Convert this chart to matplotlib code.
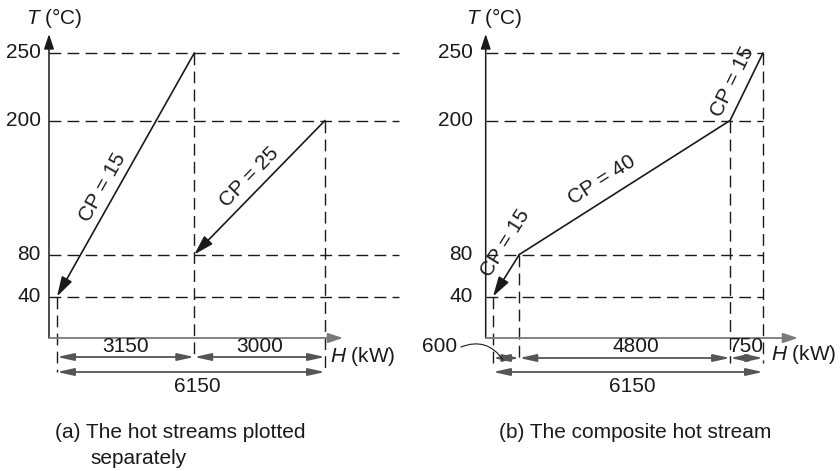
import numpy as np
import matplotlib
matplotlib.use('Agg')
import matplotlib.pyplot as plt
import matplotlib.transforms as mtransforms

plt.rcParams['font.family'] = ['Liberation Sans', 'DejaVu Sans']
plt.rcParams['mathtext.fontset'] = 'custom'
plt.rcParams['mathtext.it'] = 'Liberation Sans:italic'
plt.rcParams['mathtext.rm'] = 'Liberation Sans'

# ---------------- data ----------------
t_ticks = [40, 80, 200, 250]

# (a) hot streams plotted separately
a_H_supply = [3150, 6150]
a_T_supply = [250, 200]
a_H_target = [0, 3150]
a_T_target = [40, 80]
a_cp = [15, 25]
a_intervals = [3150, 3000]
a_total = 6150

# (b) composite hot stream (from hot end to cold end)
b_H = [6150, 5400, 600, 0]
b_T = [250, 200, 80, 40]
b_cp = [15, 40, 15]
b_intervals = [600, 4800, 750]
b_total = 6150

cap_a = ["(a) The hot streams plotted", "separately"]
cap_b = "(b) The composite hot stream"

# ---------------- schematic temperature scale ----------------
TK = np.array([-300, 0, 40, 80, 200, 250, 400.])
PK = np.array([-308, 0, 41.5, 83.5, 217.5, 285, 489.])
def fwd(t):
    return np.interp(t, TK, PK)
def inv(p):
    return np.interp(p, PK, TK)

W, Hh = 840, 471
fig = plt.figure(figsize=(W / 100, Hh / 100), dpi=100)
PX = mtransforms.Affine2D().scale(0.01, -0.01).translate(0, Hh / 100) + fig.dpi_scale_trans

FS = 15
DARK = '#1a1a1a'
GRAY = '#7a7a7a'
DIM = '#555555'


def make_ax(x0, x1, hmax):
    ax = fig.add_axes([x0 / W, (Hh - 338) / Hh, (x1 - x0) / W, 285 / Hh])
    ax.set_yscale('function', functions=(fwd, inv))
    ax.set_xlim(0, hmax)
    ax.set_ylim(0, 250)
    ax.axis('off')
    return ax


def px2data(ax, xp, yp):
    d = PX.transform((xp, yp))
    return ax.transData.inverted().transform(d)


def arrow(ax, p0, p1, style='-|>', color=DARK, lw=1.1, ms=10, hl=0.9, hw=0.28):
    ax.annotate('', xy=p1, xytext=p0, annotation_clip=False,
                arrowprops=dict(arrowstyle=f'{style},head_length={hl},head_width={hw}',
                                color=color, lw=lw, shrinkA=0, shrinkB=0,
                                mutation_scale=ms))


def cp_label(ax, p_start, p_end, text, frac, d):
    a = ax.transData.transform(p_start)
    b = ax.transData.transform(p_end)
    v = b - a
    L = np.hypot(*v)
    n = np.array([-v[1], v[0]]) / L
    if n[1] < 0:
        n = -n
    pos = a + frac * v + n * d
    ang = np.degrees(np.arctan2(v[1], v[0]))
    if ang > 90:
        ang -= 180
    if ang < -90:
        ang += 180
    xd, yd = ax.transData.inverted().transform(pos)
    ax.text(xd, yd, text, rotation=ang, rotation_mode='anchor', ha='center',
            va='center', fontsize=FS, color=DARK)


def dash_h(ax, x0, x1, t):
    ax.plot([x0, x1], [t, t], color=DARK, lw=1.0, dashes=(8.5, 4.5), clip_on=False)


def dash_v(ax, h, t0, t1):
    ax.plot([h, h], [t0, t1], color=DARK, lw=1.0, dashes=(8.5, 4.5), clip_on=False)


def frame(ax, yaxis_px, xend_px, tick_right_px, tlabel_px, hlabel_px):
    ax.annotate('', xy=(yaxis_px, 34), xytext=(yaxis_px, 338), xycoords=PX, textcoords=PX,
                annotation_clip=False,
                arrowprops=dict(arrowstyle='-|>,head_length=0.9,head_width=0.3', color=DARK,
                                lw=1.1, shrinkA=0, shrinkB=0, mutation_scale=10))
    ax.annotate('', xy=(xend_px, 338), xytext=(yaxis_px, 338), xycoords=PX, textcoords=PX,
                annotation_clip=False,
                arrowprops=dict(arrowstyle='-|>,head_length=0.9,head_width=0.3', color=GRAY,
                                lw=1.3, shrinkA=0, shrinkB=0, mutation_scale=10))
    for t in t_ticks:
        xd, _ = px2data(ax, tick_right_px, 0)
        ax.text(xd, t, str(t), ha='right', va='center', fontsize=FS, color=DARK)
    fig.text(tlabel_px / W, 1 - 18 / Hh, r'$T$ (°C)', ha='left', va='center',
             fontsize=FS, color=DARK)
    fig.text(hlabel_px[0] / W, 1 - hlabel_px[1] / Hh, r'$H$ (kW)', ha='left', va='center',
             fontsize=FS, color=DARK)


def dim_arrow(ax, x0, x1, y):
    arrow(ax, (x0, y), (x1, y), style='<|-|>', color=DIM, lw=1.3, ms=10, hl=1.0, hw=0.22)


# ================= panel (a) =================
axa = make_ax(57, 325, a_total)
ya_axis = px2data(axa, 49, 0)[0]
frame(axa, 49, 343, 41, 26, (330, 357))

xr = px2data(axa, 399, 0)[0]
for t in t_ticks:
    dash_h(axa, ya_axis, xr, t)

row1 = px2data(axa, 0, 357)[1]
row2 = px2data(axa, 0, 372)[1]
lab1 = px2data(axa, 0, 347)[1]
lab2 = px2data(axa, 0, 386)[1]

dash_v(axa, a_H_target[0], a_T_target[0], row2)
dash_v(axa, a_H_supply[0], a_T_supply[0], row1)
dash_v(axa, a_H_supply[1], a_T_supply[1], row2)

for hs, ts, he, te in zip(a_H_supply, a_T_supply, a_H_target, a_T_target):
    arrow(axa, (hs, ts), (he, te), ms=10, hl=1.2, hw=0.35, lw=1.2)
cp_label(axa, (a_H_supply[0], a_T_supply[0]), (a_H_target[0], a_T_target[0]),
         f'CP = {a_cp[0]}', 0.58, 14)
cp_label(axa, (a_H_supply[1], a_T_supply[1]), (a_H_target[1], a_T_target[1]),
         f'CP = {a_cp[1]}', 0.5, 15)

edges = np.concatenate([[0], np.cumsum(a_intervals)])
for i, val in enumerate(a_intervals):
    dim_arrow(axa, edges[i], edges[i + 1], row1)
    axa.text((edges[i] + edges[i + 1]) / 2, lab1, str(val), ha='center', va='center',
             fontsize=FS, color=DARK)
dim_arrow(axa, 0, a_total, row2)
axa.text(a_total / 2 + 150, lab2, str(a_total), ha='center', va='center', fontsize=FS,
         color=DARK)

fig.text(55 / W, 1 - 432 / Hh, cap_a[0], ha='left', va='center', fontsize=FS, color=DARK)
fig.text(90 / W, 1 - 458 / Hh, cap_a[1], ha='left', va='center', fontsize=FS, color=DARK)

# ================= panel (b) =================
axb = make_ax(493, 763, b_total)
yb_axis = px2data(axb, 485.7, 0)[0]
frame(axb, 485.7, 798, 473, 466, (771, 355))

for t in t_ticks:
    dash_h(axb, yb_axis, b_H[0], t)

rb1 = px2data(axb, 0, 358)[1]
rb2 = px2data(axb, 0, 372)[1]
rbv = px2data(axb, 0, 363)[1]
lb1 = px2data(axb, 0, 347)[1]
lb2 = px2data(axb, 0, 386)[1]

for h, t in zip(b_H, b_T):
    dash_v(axb, h, t, rbv)

axb.plot(b_H[:-1], b_T[:-1], color=DARK, lw=1.2, clip_on=False, solid_capstyle='round',
         solid_joinstyle='miter')
arrow(axb, (b_H[-2], b_T[-2]), (b_H[-1], b_T[-1]), ms=10, hl=1.2, hw=0.35, lw=1.2)

cp_label(axb, (b_H[0], b_T[0]), (b_H[1], b_T[1]), f'CP = {b_cp[0]}', 0.52, 15)
cp_label(axb, (b_H[1], b_T[1]), (b_H[2], b_T[2]), f'CP = {b_cp[1]}', 0.56, 18)
cp_label(axb, (b_H[2], b_T[2]), (b_H[3], b_T[3]), f'CP = {b_cp[2]}', -0.05, 18)

bedges = np.concatenate([[0], np.cumsum(b_intervals)])
offs = [0, 250, 0]
for i, val in enumerate(b_intervals):
    dim_arrow(axb, bedges[i], bedges[i + 1], rb1)
    if i == 0:
        xt, yt = px2data(axb, 440, 347)
        axb.text(xt, yt, str(val), ha='center', va='center', fontsize=FS, color=DARK)
        ls = px2data(axb, 461, 347)
        le = px2data(axb, 503, 360)
        axb.annotate('', xy=le, xytext=ls, annotation_clip=False,
                     arrowprops=dict(arrowstyle='-', color=DARK, lw=0.8,
                                     connectionstyle='arc3,rad=-0.4',
                                     shrinkA=0, shrinkB=0))
    else:
        axb.text((bedges[i] + bedges[i + 1]) / 2 + offs[i], lb1, str(val), ha='center',
                 va='center', fontsize=FS, color=DARK)
dim_arrow(axb, 0, b_total, rb2)
axb.text(b_total / 2 + 90, lb2, str(b_total), ha='center', va='center', fontsize=FS,
         color=DARK)

fig.text(635 / W, 1 - 432 / Hh, cap_b, ha='center', va='center', fontsize=FS, color=DARK)

fig.savefig('out.png', dpi=100, facecolor='white')
